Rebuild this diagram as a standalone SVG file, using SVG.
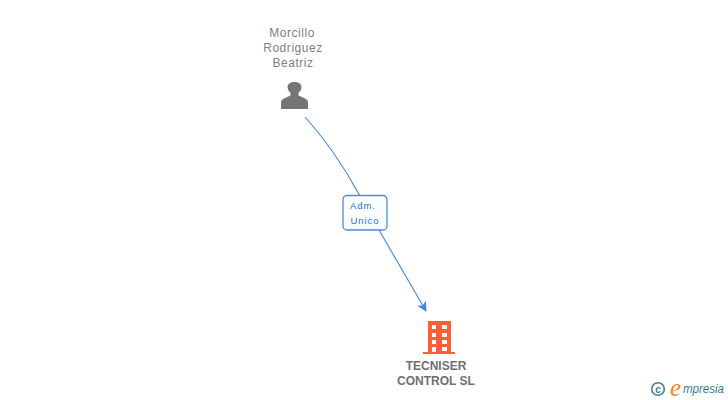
<svg xmlns="http://www.w3.org/2000/svg" width="728" height="400" viewBox="0 0 728 400">
<style>
.p{font:12px "Liberation Sans",Arial,sans-serif;fill:#808080;letter-spacing:.55px;text-anchor:middle}
.c{font:bold 12px "Liberation Sans",Arial,sans-serif;fill:#707070;text-anchor:middle}
.l{font:9.500px "Liberation Sans",Arial,sans-serif;fill:#1f6fd6;letter-spacing:.9px;text-anchor:middle}
.e{fill:none;stroke:#3f86e0;stroke-width:1.100}
</style>
<defs><marker id="a" markerWidth="11" markerHeight="11" refX="9" refY="5" orient="auto" markerUnits="userSpaceOnUse"><path d="M0 0L10 5L0 10L2.500 5Z" fill="#3f86e0"/></marker></defs>
<rect width="728" height="400" fill="#fff"/>
<g id="connectors">
<path class="e" d="M305 117Q335 150 360 196"/>
<path class="e" d="M379 230L426 311" marker-end="url(#a)"/>
</g>
<g id="person">
<text class="p" x="292" y="37">Morcillo</text>
<text class="p" x="293" y="52">Rodriguez</text>
<text class="p" x="293" y="67">Beatriz</text>
<path fill="#757575" d="M281 109V102.500Q281 99.500 285 98L290.500 95.500V93Q287.500 90.500 287.500 87.500Q287.500 82 294.500 82Q301.500 82 301.500 87.500Q301.500 90.500 298.500 93V95.500L304 98Q308 99.500 308 102.500V109Z"/>
</g>
<g id="label">
<rect x="343" y="195.500" width="44" height="34.500" rx="4" fill="#fafcff" stroke="#4a8ae0" stroke-width="1.300"/>
<text class="l" x="363" y="209">Adm.</text>
<text class="l" x="365" y="224">Unico</text>
</g>
<g id="company">
<path fill="#ff5f33" fill-rule="evenodd" d="M428 321H451V352H455V354H423V352H428ZM432 325V329H436V325ZM442 325V329H447V325ZM432 333V337H436V333ZM442 333V337H447V333ZM432 340V344H436V340ZM442 340V344H447V340ZM432 347V352H436V347ZM442 347V351H447V347Z"/>
<text class="c" x="436" y="370">TECNISER</text>
<text class="c" x="436" y="385">CONTROL SL</text>
</g>
<g id="logo">
<circle cx="658" cy="389" r="6.300" fill="none" stroke="#3d7d96" stroke-width="1.600"/>
<text x="658" y="392.500" font-family="Liberation Sans,sans-serif" font-size="10" font-weight="bold" fill="#3d7d96" text-anchor="middle">c</text>
<text x="670" y="396" font-family="Liberation Serif,serif" font-style="italic" font-size="25" fill="#f08a24">e</text>
<text x="683" y="393" font-family="Liberation Sans,sans-serif" font-style="italic" font-size="12" textLength="41" lengthAdjust="spacingAndGlyphs" fill="#2f7d95">mpresia</text>
</g>
</svg>
